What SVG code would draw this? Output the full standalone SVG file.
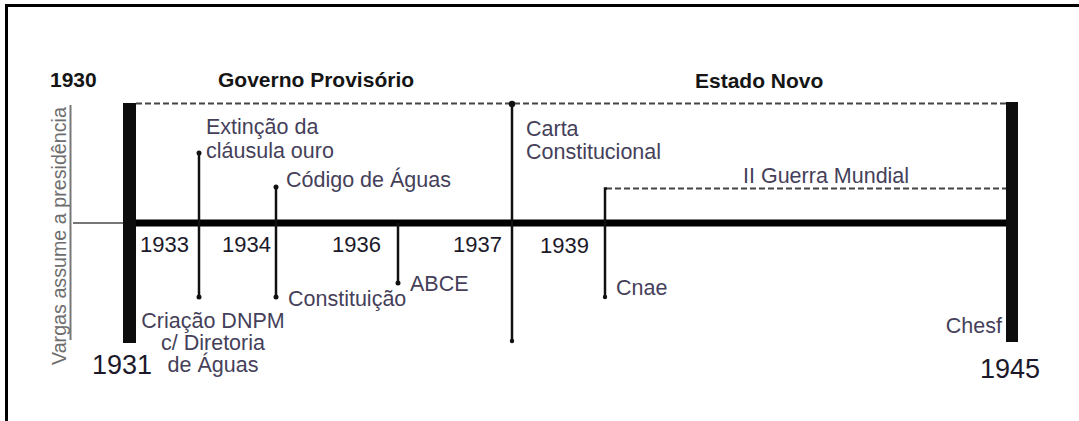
<svg xmlns="http://www.w3.org/2000/svg" width="1079" height="421" viewBox="0 0 1079 421">
<style>
text{font-family:"Liberation Sans",Arial,sans-serif}
.head{font-size:21px;font-weight:bold;fill:#151515}
.yr{font-size:22px;fill:#1c1a2a}
.big{font-size:27px;fill:#1c1a2a}
.lbl{font-size:21.5px;fill:#453f5a}
.side{font-size:19.7px;fill:#6e6e6e}
.ev{stroke:#111;stroke-width:2.5;fill:none}
.dash{stroke:#444;stroke-width:1.8;stroke-dasharray:6 3;fill:none}
.dot{fill:#111}
</style>
<rect x="6.5" y="5.5" width="1100" height="500" fill="#fff" stroke="#000" stroke-width="3"/>
<g id="connectors">
<line x1="73" y1="223" x2="124" y2="223" stroke="#777" stroke-width="2"/>
<line x1="70.5" y1="105" x2="70.5" y2="340" stroke="#777" stroke-width="2"/>
<line class="dash" x1="136" y1="103.5" x2="1006" y2="103.5"/>
<line class="dash" x1="606" y1="188.5" x2="1006" y2="188.5" stroke-width="2.4" stroke="#222"/>
<line x1="130" y1="223" x2="1012" y2="223" stroke="#000" stroke-width="7"/>
<line class="ev" x1="199" y1="153" x2="199" y2="297"/>
<circle class="dot" cx="199" cy="153" r="2.5"/><circle class="dot" cx="199" cy="297" r="2.5"/>
<line class="ev" x1="276" y1="187" x2="276" y2="297"/>
<circle class="dot" cx="276" cy="187" r="2.5"/><circle class="dot" cx="276" cy="297" r="2.5"/>
<line class="ev" x1="398" y1="223" x2="398" y2="283"/>
<circle class="dot" cx="398" cy="283" r="2.5"/>
<line class="ev" x1="512" y1="104" x2="512" y2="341"/>
<circle class="dot" cx="512" cy="104" r="3.2"/><circle class="dot" cx="512" cy="341" r="2.2"/>
<polyline class="ev" points="607,188.5 605,188.5 605,297"/>
<circle class="dot" cx="605" cy="297" r="2.2"/>
</g>
<g id="bar-1931"><rect x="123" y="103" width="13" height="240" fill="#0d0d0d"/></g>
<g id="bar-1945"><rect x="1006" y="102" width="12" height="240" fill="#0d0d0d"/></g>
<g id="headers">
<text class="head" x="50" y="87" font-size="22">1930</text>
<text class="head" x="218" y="87">Governo Provisório</text>
<text class="head" x="695" y="88">Estado Novo</text>
</g>
<g id="node-vargas"><text class="side" transform="translate(66,365) rotate(-90)">Vargas assume a presidência</text></g>
<g id="node-1931"><text class="big" x="92" y="374">1931</text></g>
<g id="node-1945"><text class="big" x="980" y="378">1945</text></g>
<g id="node-extincao"><text class="lbl" x="206" y="134">Extinção da</text><text class="lbl" x="206" y="157.5">cláusula ouro</text></g>
<g id="node-codigo"><text class="lbl" x="286" y="187">Código de Águas</text></g>
<g id="node-carta"><text class="lbl" x="526" y="136">Carta</text><text class="lbl" x="526" y="159">Constitucional</text></g>
<g id="node-guerra"><text class="lbl" x="743" y="183">II Guerra Mundial</text></g>
<g id="years">
<text class="yr" x="140" y="252">1933</text>
<text class="yr" x="222" y="252">1934</text>
<text class="yr" x="332" y="252">1936</text>
<text class="yr" x="453" y="252">1937</text>
<text class="yr" x="540" y="253">1939</text>
</g>
<g id="node-dnpm" text-anchor="middle">
<text class="lbl" x="213" y="328">Criação DNPM</text>
<text class="lbl" x="213" y="350">c/ Diretoria</text>
<text class="lbl" x="213" y="372">de Águas</text>
</g>
<g id="node-constituicao"><text class="lbl" x="288" y="306">Constituição</text></g>
<g id="node-abce"><text class="lbl" x="410" y="291">ABCE</text></g>
<g id="node-cnae"><text class="lbl" x="616" y="295">Cnae</text></g>
<g id="node-chesf"><text class="lbl" x="1002" y="333" text-anchor="end">Chesf</text></g>
</svg>
